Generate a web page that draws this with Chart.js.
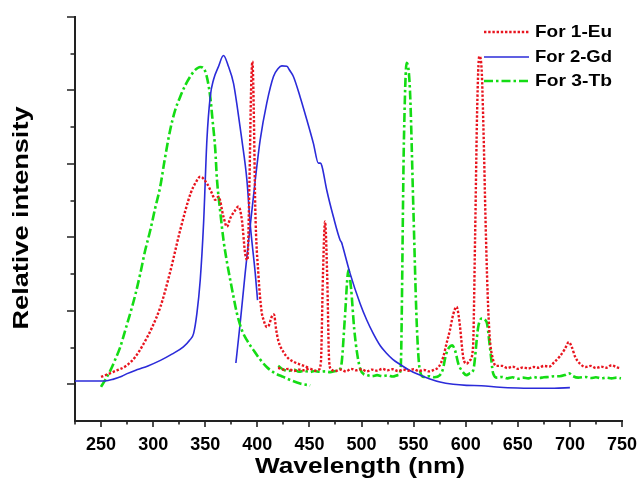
<!DOCTYPE html>
<html>
<head>
<meta charset="utf-8">
<title>Relative intensity vs wavelength</title>
<script src="https://cdn.jsdelivr.net/npm/chart.js@4.4.1/dist/chart.umd.min.js"></script>
<style>
    html, body { margin: 0; padding: 0; background: #fff; }
    #chart { display: block; }
</style>
</head>
<body>
<canvas id="chart" width="641" height="488"></canvas>
<script>
// Axis ticks (nm on x, relative units on y)
const X_TICKS = [250, 300, 350, 400, 450, 500, 550, 600, 650, 700, 750];
const X_MINOR_TICKS = [225, 275, 325, 375, 425, 475, 525, 575, 625, 675, 725];
const Y_TICKS = [0, 0.2, 0.4, 0.6, 0.8, 1.0];
const Y_MINOR_TICKS = [0.1, 0.3, 0.5, 0.7, 0.9];

// For 1-Eu : excitation part
const euExWave = [250, 262, 275, 283, 291, 299, 307, 316, 326, 336, 341, 345.2, 351.6, 356.4, 359.6, 362.7,
    367.5, 370.8, 374, 378.8, 381.9, 385.2, 388.3, 390.5, 392.5, 394, 395.3, 396.5, 398, 401, 404, 406, 409,
    411, 414, 416, 418, 420, 425, 430, 435, 440, 445, 450];
const euExInt = [0.02, 0.034, 0.052, 0.075, 0.111, 0.155, 0.211, 0.302, 0.42, 0.52, 0.55, 0.565, 0.547, 0.52,
    0.502, 0.511, 0.456, 0.429, 0.452, 0.474, 0.484, 0.447, 0.356, 0.338, 0.56, 0.8, 0.879, 0.76, 0.483, 0.30,
    0.2, 0.175, 0.156, 0.16, 0.185, 0.19, 0.15, 0.12, 0.088, 0.07, 0.061, 0.055, 0.05, 0.044];

// For 1-Eu : emission part
const euEmWave = [420, 425, 430, 435, 440, 445, 450, 455, 459, 461, 463, 465, 467, 469, 471, 475, 480, 485,
    490, 495, 500, 505, 510, 515, 520, 525, 530, 535, 540, 545, 550, 555, 560, 565, 570, 574, 578.4, 581.5,
    584.8, 588, 591.2, 594, 597.6, 600.8, 604, 607, 609, 611, 613, 615, 617, 619, 621, 623, 626, 629, 635,
    640, 645, 650, 655, 660, 665, 670, 675, 680, 685, 690, 695, 699, 702, 705, 710, 715, 720, 725, 730, 735,
    740, 745, 748];
const euEmInt = [0.045, 0.04, 0.042, 0.036, 0.04, 0.038, 0.043, 0.037, 0.04, 0.06, 0.3, 0.443, 0.3, 0.06,
    0.04, 0.036, 0.04, 0.035, 0.042, 0.038, 0.041, 0.035, 0.04, 0.037, 0.042, 0.038, 0.041, 0.036, 0.04,
    0.037, 0.041, 0.036, 0.039, 0.035, 0.04, 0.047, 0.074, 0.11, 0.147, 0.19, 0.211, 0.17, 0.074, 0.056,
    0.065, 0.1, 0.4, 0.75, 0.893, 0.87, 0.7, 0.45, 0.25, 0.13, 0.07, 0.05, 0.05, 0.044, 0.048, 0.042, 0.046,
    0.043, 0.047, 0.045, 0.05, 0.048, 0.06, 0.075, 0.095, 0.115, 0.1, 0.075, 0.055, 0.047, 0.05, 0.044,
    0.048, 0.045, 0.052, 0.046, 0.044];

// For 2-Gd : excitation part
const gdExWave = [225, 240, 254, 262, 270, 275, 285, 295, 307, 318, 329, 335, 338.8, 342, 345.2, 348.4, 351.6,
    354.8, 358, 362.7, 367.5, 372.3, 377.1, 381, 385.2, 390, 393.1, 398, 400.2];
const gdExInt = [0.009, 0.009, 0.009, 0.014, 0.022, 0.029, 0.04, 0.05, 0.065, 0.082, 0.102, 0.12, 0.138, 0.193,
    0.284, 0.438, 0.665, 0.783, 0.83, 0.865, 0.895, 0.865, 0.82, 0.75, 0.665, 0.556, 0.438, 0.302, 0.229];

// For 2-Gd : emission part
const gdEmWave = [379.4, 383.5, 388.3, 393.1, 398, 402.7, 409, 415.5, 420, 423.5, 428.3, 431, 434.6, 441, 447.5,
    453.8, 458.6, 460.5, 461.9, 466.6, 473, 479.4, 481, 482, 489, 498.6, 505, 511.3, 518, 524.2, 530, 537,
    546, 556, 565, 575.3, 588, 600.8, 615, 632.8, 650, 670, 685, 700];
const gdEmInt = [0.058, 0.165, 0.302, 0.429, 0.556, 0.665, 0.765, 0.838, 0.86, 0.867, 0.866, 0.855, 0.838, 0.783,
    0.72, 0.656, 0.602, 0.602, 0.595, 0.529, 0.456, 0.393, 0.385, 0.375, 0.302, 0.22, 0.175, 0.138, 0.105,
    0.084, 0.068, 0.054, 0.038, 0.025, 0.015, 0.006, 0.0, -0.003, -0.004, -0.008, -0.01, -0.011, -0.011, -0.009];

// For 3-Tb : excitation part
const tbExWave = [250, 254, 259, 264, 268.5, 273, 278, 283, 287.7, 292, 297.3, 302, 306.8, 311, 316.4, 321, 326,
    331, 335.6, 340, 345.2, 350, 354.8, 357, 359.6, 361.2, 364.4, 367.5, 371, 374, 377, 380.4, 385.2, 390,
    396.3, 402, 409, 417, 425, 433, 441, 450.7];
const tbExInt = [-0.007, 0.012, 0.038, 0.07, 0.102, 0.145, 0.193, 0.245, 0.302, 0.36, 0.42, 0.48, 0.538, 0.61,
    0.693, 0.745, 0.783, 0.815, 0.838, 0.855, 0.864, 0.852, 0.783, 0.72, 0.64, 0.56, 0.47, 0.393, 0.33, 0.284,
    0.24, 0.193, 0.147, 0.12, 0.093, 0.07, 0.047, 0.03, 0.02, 0.01, 0.002, -0.003];

// For 3-Tb : emission part
const tbEmWave = [420, 425, 430, 435, 440, 445, 450, 455, 460, 465, 470, 475, 479, 481, 484, 487.5, 490, 493,
    496, 499, 502, 505, 510, 515, 520, 525, 530, 535, 537.5, 540.7, 543.3, 546.5, 549.7, 553, 556, 560, 565,
    570, 575, 578, 581, 584, 587, 590, 593, 596, 600.8, 604, 607.2, 612, 615.2, 620, 623.2, 626.4, 630, 635,
    640, 645, 650, 655, 660, 665, 670, 675, 680, 685, 690, 695, 699, 703, 708, 715, 720, 725, 730, 735, 740,
    745, 749];
const tbEmInt = [0.05, 0.04, 0.036, 0.04, 0.034, 0.037, 0.033, 0.036, 0.034, 0.035, 0.033, 0.036, 0.04, 0.06,
    0.18, 0.311, 0.26, 0.15, 0.08, 0.04, 0.028, 0.025, 0.022, 0.025, 0.022, 0.024, 0.021, 0.025, 0.04, 0.665,
    0.875, 0.8, 0.484, 0.165, 0.038, 0.02, 0.022, 0.019, 0.024, 0.04, 0.08, 0.1, 0.106, 0.09, 0.055, 0.038,
    0.025, 0.03, 0.038, 0.156, 0.179, 0.17, 0.102, 0.029, 0.018, 0.02, 0.016, 0.019, 0.015, 0.018, 0.016,
    0.02, 0.017, 0.019, 0.02, 0.022, 0.022, 0.025, 0.03, 0.022, 0.018, 0.02, 0.017, 0.019, 0.016, 0.018,
    0.016, 0.018, 0.016];

const COLORS = {
    eu: '#e8141e',
    gd: '#2b2bd9',
    tb: '#14dc14',
    axis: '#222'
};
const FONT = 'Arial, "Liberation Sans", sans-serif';

// zip two lists into {x, y} points
function pairs(xs, ys) {
    return xs.map((x, i) => ({ x: x, y: ys[i] }));
}

function series(label, xs, ys, color, dash, width, inLegend) {
    return {
        label: label,
        data: pairs(xs, ys),
        borderColor: color,
        borderWidth: width,
        borderDash: dash,
        borderCapStyle: 'butt',
        pointRadius: 0,
        fill: false,
        cubicInterpolationMode: 'monotone',
        inLegend: inLegend
    };
}

/**
 * Tick marks of two lengths plus the axis titles
 */
const axisDecor = {
    id: 'axisDecor',
    afterDraw(chart) {
        const ctx = chart.ctx;
        const xs = chart.scales.x;
        const ys = chart.scales.y;
        const area = chart.chartArea;

        ctx.save();
        ctx.strokeStyle = COLORS.axis;
        ctx.lineWidth = 1.6;
        ctx.beginPath();
        X_TICKS.forEach(v => {
            const px = Math.round(xs.getPixelForValue(v));
            ctx.moveTo(px, area.bottom);
            ctx.lineTo(px, area.bottom + 6);
        });
        X_MINOR_TICKS.forEach(v => {
            const px = Math.round(xs.getPixelForValue(v));
            ctx.moveTo(px, area.bottom);
            ctx.lineTo(px, area.bottom + 3.5);
        });
        Y_TICKS.forEach(v => {
            const py = Math.round(ys.getPixelForValue(v));
            ctx.moveTo(area.left, py);
            ctx.lineTo(area.left - 8, py);
        });
        Y_MINOR_TICKS.forEach(v => {
            const py = Math.round(ys.getPixelForValue(v));
            ctx.moveTo(area.left, py);
            ctx.lineTo(area.left - 4.5, py);
        });
        ctx.stroke();

        ctx.fillStyle = '#000';
        ctx.font = 'bold 22px ' + FONT;
        ctx.textAlign = 'center';
        ctx.textBaseline = 'middle';
        drawFitted(ctx, 'Wavelength (nm)', 360, 467, 210, 0);
        drawFitted(ctx, 'Relative intensity', 22, 218, 223, -Math.PI / 2);
        ctx.restore();
    }
};

// draw text squeezed/stretched to a given width
function drawFitted(ctx, text, cx, cy, width, angle) {
    ctx.save();
    ctx.translate(cx, cy);
    ctx.rotate(angle);
    const w = ctx.measureText(text).width;
    ctx.scale(width / w, 1);
    ctx.fillText(text, 0, 0);
    ctx.restore();
}

/**
 * Legend in the upper right corner, with line samples
 */
const cornerLegend = {
    id: 'cornerLegend',
    afterDraw(chart) {
        const ctx = chart.ctx;
        const items = chart.data.datasets.filter(d => d.inLegend);
        const rows = [32, 57, 81];

        ctx.save();
        ctx.font = 'bold 17px ' + FONT;
        ctx.textAlign = 'left';
        ctx.textBaseline = 'middle';
        items.forEach((d, i) => {
            const y = rows[i];
            ctx.strokeStyle = d.borderColor;
            ctx.lineWidth = d.borderWidth;
            ctx.setLineDash(d.borderDash);
            ctx.beginPath();
            ctx.moveTo(484, y);
            ctx.lineTo(529, y);
            ctx.stroke();
            ctx.setLineDash([]);
            ctx.fillStyle = '#000';
            drawLeft(ctx, d.label, 535, y + 0.5, 77);
        });
        ctx.restore();
    }
};

function drawLeft(ctx, text, x, y, width) {
    ctx.save();
    ctx.translate(x, y);
    const w = ctx.measureText(text).width;
    ctx.scale(width / w, 1);
    ctx.fillText(text, 0, 0);
    ctx.restore();
}

const DOT = [2.4, 1.8];
const SOLID = [];
const DASH_DOT = [9, 3, 2.5, 3];

new Chart(document.getElementById('chart'), {
    type: 'line',
    data: {
        datasets: [
            series('For 1-Eu', euExWave, euExInt, COLORS.eu, DOT, 2.4, true),
            series('For 2-Gd', gdExWave, gdExInt, COLORS.gd, SOLID, 1.6, true),
            series('For 3-Tb', tbExWave, tbExInt, COLORS.tb, DASH_DOT, 2.6, true),
            series('For 1-Eu', euEmWave, euEmInt, COLORS.eu, DOT, 2.4, false),
            series('For 2-Gd', gdEmWave, gdEmInt, COLORS.gd, SOLID, 1.6, false),
            series('For 3-Tb', tbEmWave, tbEmInt, COLORS.tb, DASH_DOT, 2.6, false)
        ]
    },
    options: {
        responsive: false,
        animation: false,
        layout: { padding: { top: 17, right: 19, left: 0, bottom: 0 } },
        plugins: {
            legend: { display: false },
            tooltip: { enabled: false }
        },
        scales: {
            x: {
                type: 'linear',
                min: 225,
                max: 750,
                afterBuildTicks: scale => {
                    scale.ticks = X_TICKS.map(v => ({ value: v }));
                },
                afterFit: scale => {
                    // fixed box, no extra room for the end labels
                    scale.height = 67;
                    scale.paddingLeft = 0;
                    scale.paddingRight = 0;
                },
                ticks: {
                    padding: 5,
                    maxRotation: 0,
                    autoSkip: false,
                    color: '#000',
                    font: { family: FONT, size: 18, weight: 'bold' }
                },
                grid: { display: false },
                border: { display: true, color: COLORS.axis, width: 2 }
            },
            y: {
                type: 'linear',
                min: -0.1,
                max: 1.0,
                afterFit: scale => {
                    scale.width = 75;
                    scale.paddingTop = 0;
                    scale.paddingBottom = 0;
                },
                ticks: { display: false },
                grid: { display: false },
                border: { display: true, color: COLORS.axis, width: 2 }
            }
        }
    },
    plugins: [axisDecor, cornerLegend]
});
</script>
</body>
</html>
